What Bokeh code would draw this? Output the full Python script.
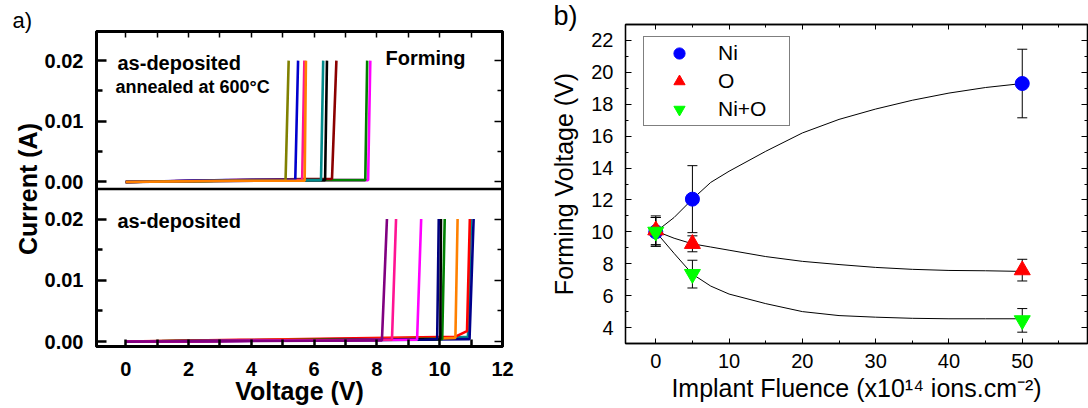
from bokeh.plotting import figure
from bokeh.models import (Range1d, FixedTicker, LinearAxis, Label, Span, CustomJSTickFormatter,
                          Whisker, TeeHead, ColumnDataSource, Legend, LegendItem)
from bokeh.layouts import row
from bokeh.embed import file_html
from bokeh.resources import INLINE

FONT = "Liberation Sans"

# ---------------- panel a data ----------------
volt_ticks = [0, 2, 4, 6, 8, 10, 12]
volt_minor = [1, 3, 5, 7, 9, 11]
cur_ticks = [0.0, 0.01, 0.02]
cur_minor = [0.005, 0.015]
i_compliance = 0.02

# as-deposited, annealed at 600 C (upper plot)
ann_colors = ["#ff00ff", "#008000", "#8b0000", "#000000", "#008b8b", "#ff1493", "#0000cd", "#808000", "#ff8000"]
ann_v_onset = [5.7, 5.7, 5.7, 4.0, 4.0, 3.5, 3.2, 3.0, 3.5]
ann_i_onset = [0.0003, 0.0003, 0.0005, 0.0003, 0.0003, 0.0003, 0.0003, 0.0002, 0.0002]
ann_v_jump = [7.72, 7.63, 6.57, 6.35, 6.22, 5.62, 5.40, 5.09, 5.70]
ann_i_jump = [0.0003, 0.0003, 0.0005, 0.0003, 0.0003, 0.0003, 0.0003, 0.0002, 0.0002]
ann_v_top = [7.79, 7.69, 6.71, 6.41, 6.29, 5.69, 5.49, 5.19, 5.74]

# as-deposited (lower plot)
dep_colors = ["#008b8b", "#00008b", "#ff0000", "#ff8000", "#008000", "#000000", "#000080", "#ff00ff", "#ff1493", "#800080"]
dep_v_onset = [10.3, 10.9, 10.5, 10.0, 9.5, 9.5, 9.5, 9.0, 8.3, 8.0]
dep_i_onset = [0.0006, 0.0004, 0.0008, 0.0005, 0.0004, 0.0004, 0.0003, 0.0003, 0.0003, 0.0002]
dep_v_jump = [10.90, 10.95, 10.87, 10.50, 10.08, 10.02, 9.92, 9.28, 8.48, 8.16]
dep_i_jump = [0.0008, 0.0004, 0.0017, 0.0006, 0.0004, 0.0004, 0.0004, 0.0003, 0.0003, 0.0002]
dep_v_top = [11.00, 11.08, 10.96, 10.57, 10.16, 10.04, 9.97, 9.41, 8.61, 8.32]

# ---------------- panel b data ----------------
fluence = [0, 5, 50]
ni_v = [10.0, 12.05, 19.3]
ni_err = [0.9, 2.1, 2.15]
o_v = [10.1, 9.25, 7.6]
o_err = [0.9, 0.5, 0.68]
nio_v = [10.0, 7.35, 4.45]
nio_err = [0.9, 0.87, 0.74]

fit_x = [0, 2.5, 5, 7.5, 10, 15, 20, 25, 30, 35, 40, 45, 50]
ni_fit = [10.0, 10.9, 12.05, 13.1, 13.8, 15.05, 16.2, 17.05, 17.7, 18.25, 18.7, 19.05, 19.3]
o_fit = [10.05, 9.6, 9.25, 9.05, 8.85, 8.45, 8.15, 7.95, 7.77, 7.65, 7.58, 7.56, 7.52]
nio_fit = [10.0, 8.65, 7.35, 6.6, 6.1, 5.5, 5.0, 4.75, 4.65, 4.58, 4.55, 4.55, 4.55]

fluence_ticks = [0, 10, 20, 30, 40, 50]
fluence_minor = [5, 15, 25, 35, 45, 55]
fv_ticks = [4, 6, 8, 10, 12, 14, 16, 18, 20, 22]
fv_minor = [3, 5, 7, 9, 11, 13, 15, 17, 19, 21, 23]


def style_axis(ax, size, bold, lw, maj_in, min_in, standoff, tick_lw):
    ax.axis_line_color = "black"
    ax.axis_line_width = lw
    ax.major_tick_in = maj_in
    ax.major_tick_out = 0
    ax.minor_tick_in = min_in
    ax.minor_tick_out = 0
    ax.major_tick_line_color = "black"
    ax.minor_tick_line_color = "black"
    ax.major_tick_line_width = tick_lw
    ax.minor_tick_line_width = tick_lw
    ax.major_label_text_font = FONT
    ax.major_label_text_font_size = size
    ax.major_label_text_font_style = "bold" if bold else "normal"
    ax.major_label_text_color = "black"
    ax.major_label_standoff = standoff
    ax.axis_label_text_color = "black"
    ax.axis_label_text_font = FONT


def ghost_axis(p, side, ticker, lw, maj_in, min_in, tick_lw):
    ax = LinearAxis(ticker=ticker)
    style_axis(ax, "0px", False, lw, maj_in, min_in, 0, tick_lw)
    ax.major_label_text_color = None
    ax.major_label_text_alpha = 0
    p.add_layout(ax, side)
    return ax


def panel_title(p, text, size, offset, standoff):
    p.title.text = text
    p.title.align = "left"
    p.title.offset = offset
    p.title.standoff = standoff
    p.title.text_font = FONT
    p.title.text_font_size = size
    p.title.text_font_style = "normal"
    p.title.text_color = "black"


# ---------------- panel a (two stacked plots in one frame) ----------------
# lower plot uses the default y range; the upper plot its own range, each on half the frame
low_lo, low_hi = -0.0008, 0.0249
up_lo, up_hi = -0.00116, 0.0248
yb = Range1d(low_lo, low_lo + 2 * (low_hi - low_lo))
yt = Range1d(up_hi - 2 * (up_hi - up_lo), up_hi)


def up_to_default(v):
    return yb.start + (v - yt.start) / (yt.end - yt.start) * (yb.end - yb.start)


a = figure(width=528, height=408, x_range=Range1d(-0.93, 12), y_range=yb,
           toolbar_location=None, output_backend="svg", frame_align=False,
           min_border_left=96, min_border_right=26, min_border_top=31, min_border_bottom=62)
a.extra_y_ranges = {"up": yt}
a.grid.visible = False
a.outline_line_color = "black"
a.outline_line_width = 3
panel_title(a, "a)", "22px", -84, -2)

cur_ticker = FixedTicker(ticks=cur_ticks + [up_to_default(v) for v in cur_ticks],
                         minor_ticks=cur_minor + [up_to_default(v) for v in cur_minor])
a.yaxis.ticker = cur_ticker
a.yaxis.formatter = CustomJSTickFormatter(
    args=dict(split=low_hi, lo_b=yb.start, hi_b=yb.end, lo_t=yt.start, hi_t=yt.end),
    code="""
    let v = tick;
    if (tick > split) { v = lo_t + (tick - lo_b) / (hi_b - lo_b) * (hi_t - lo_t); }
    if (Math.abs(v) < 1e-9) { v = 0; }
    return v.toFixed(2);
    """)
style_axis(a.yaxis[0], "20px", True, 3, 10, 6, 13, 2.5)
a.yaxis.axis_label = "Current (A)"
a.yaxis.axis_label_text_font_size = "25px"
a.yaxis.axis_label_text_font_style = "bold"
a.yaxis.axis_label_standoff = 0

a.xaxis.ticker = FixedTicker(ticks=volt_ticks, minor_ticks=volt_minor)
style_axis(a.xaxis[0], "20px", True, 3, 7, 7, 15, 2.5)
a.xaxis.axis_label = "Voltage (V)"
a.xaxis.axis_label_text_font_size = "25px"
a.xaxis.axis_label_text_font_style = "bold"
a.xaxis.axis_label_standoff = -2

ghost_axis(a, "right", cur_ticker, 3, 8, 5, 1.5)
ghost_axis(a, "above", FixedTicker(ticks=volt_ticks, minor_ticks=volt_minor), 3, 6, 6, 1.5)
a.add_layout(Span(location=low_hi, dimension="width", line_color="black", line_width=2.5))

for c, v0, i0, vj, ij, vt in zip(ann_colors, ann_v_onset, ann_i_onset, ann_v_jump, ann_i_jump, ann_v_top):
    a.line([0, v0, vj, vt], [0, i0, ij, i_compliance], line_color=c, line_width=2.6, y_range_name="up")
for c, v0, i0, vj, ij, vt in zip(dep_colors, dep_v_onset, dep_i_onset, dep_v_jump, dep_i_jump, dep_v_top):
    a.line([0, v0, vj, vt], [0, i0, ij, i_compliance], line_color=c, line_width=2.6)

for txt, x, y, fs in (("as-deposited", 21, 284, "20px"),
                      ("annealed at 600°C", 19, 260, "18px"),
                      ("Forming", 289, 289, "20px"),
                      ("as-deposited", 21, 126, "20px")):
    a.add_layout(Label(x=x, y=y, x_units="screen", y_units="screen", text=txt, text_font=FONT,
                       text_font_size=fs, text_font_style="bold", text_color="black",
                       text_baseline="middle"))

# ---------------- panel b ----------------
b = figure(width=560, height=408, x_range=Range1d(-4.13, 58.9), y_range=Range1d(3, 23),
           toolbar_location=None, output_backend="svg", frame_align=False,
           min_border_left=97, min_border_right=1, min_border_top=24, min_border_bottom=65)
b.grid.visible = False
b.outline_line_color = "black"
b.outline_line_width = 1.3
panel_title(b, "b)", "27px", -72, -12)
b.xaxis.ticker = FixedTicker(ticks=fluence_ticks, minor_ticks=fluence_minor)
b.yaxis.ticker = FixedTicker(ticks=fv_ticks, minor_ticks=fv_minor)
style_axis(b.xaxis[0], "20px", False, 1.3, 5, 3, 10, 1)
style_axis(b.yaxis[0], "20px", False, 1.3, 6, 3, 12, 1)
b.xaxis.axis_label = "Implant Fluence (x10\u00b9\u2074 ions.cm\u207b\u00b2)"
b.yaxis.axis_label = "Forming Voltage (V)"
for ax in (b.xaxis[0], b.yaxis[0]):
    ax.axis_label_text_font_size = "25px"
    ax.axis_label_text_font_style = "normal"
b.xaxis.axis_label_standoff = 3
b.yaxis.axis_label_standoff = 10
ghost_axis(b, "right", FixedTicker(ticks=fv_ticks, minor_ticks=fv_minor), 1.3, 6, 3, 1)
ghost_axis(b, "above", FixedTicker(ticks=fluence_ticks, minor_ticks=fluence_minor), 1.3, 5, 3, 1)

for vals, errs in ((ni_v, ni_err), (o_v, o_err), (nio_v, nio_err)):
    src = ColumnDataSource(dict(x=fluence,
                                upper=[v + e for v, e in zip(vals, errs)],
                                lower=[v - e for v, e in zip(vals, errs)]))
    b.add_layout(Whisker(source=src, base="x", upper="upper", lower="lower",
                         line_color="black", line_width=1,
                         upper_head=TeeHead(size=10, line_color="black", line_width=1),
                         lower_head=TeeHead(size=10, line_color="black", line_width=1)))

for fit in (ni_fit, o_fit, nio_fit):
    b.line(fit_x, fit, line_color="black", line_width=1)

r_ni = b.scatter(fluence, ni_v, marker="circle", size=14, fill_color="#0000ff", line_color="#0000ff")
r_o = b.scatter(fluence, o_v, marker="triangle", size=16, fill_color="#ff0000", line_color="#ff0000")
r_nio = b.scatter(fluence, nio_v, marker="inverted_triangle", size=16, fill_color="#00ff00", line_color="#00ff00")

legend = Legend(items=[LegendItem(label="Ni", renderers=[r_ni]),
                       LegendItem(label="O", renderers=[r_o]),
                       LegendItem(label="Ni+O", renderers=[r_nio])],
                location=(18, 217), padding=2, spacing=0, margin=0,
                glyph_width=66, glyph_height=28, label_height=28, label_width=69,
                label_standoff=6, label_text_font=FONT, label_text_font_size="21px",
                label_text_color="black",
                border_line_color="black", border_line_width=1,
                background_fill_color="white", background_fill_alpha=1)
b.add_layout(legend, "center")

layout = row(a, b)
open("out.html", "w").write(file_html(layout, INLINE))
